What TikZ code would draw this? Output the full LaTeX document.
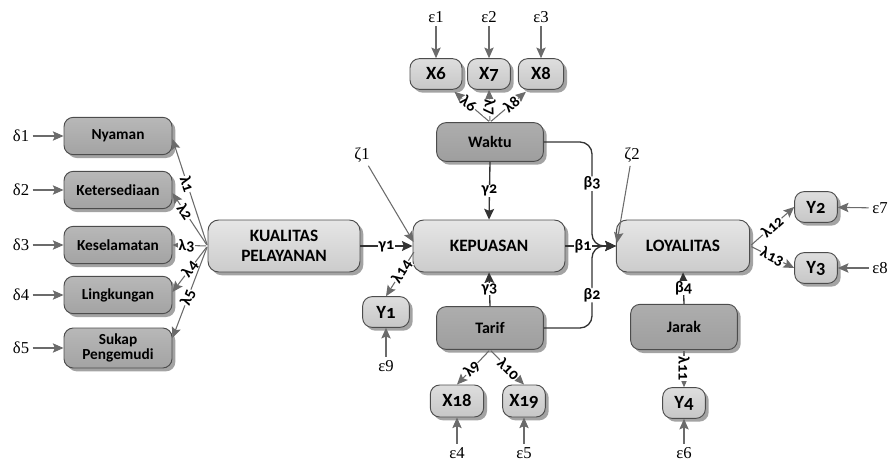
\documentclass[tikz,border=0pt]{standalone}
\usepackage{fontspec}
\setmainfont{Carlito}
\newfontfamily\grk{Liberation Serif}
\newfontfamily\obsf[Numbers=OldStyle]{Carlito}
\usetikzlibrary{arrows.meta,shadows,calc}
\begin{document}
\begin{tikzpicture}[x=0.75pt,y=-0.75pt,
  shad/.style={drop shadow={shadow xshift=2.5pt,shadow yshift=-2.5pt,fill=black!45,opacity=0.8}},
  boxbase/.style={draw=black!70,line width=0.7pt,shad,align=center,inner sep=2pt},
  indbox/.style={boxbase,rounded corners=7pt,top color=black!28,bottom color=black!36,
     minimum width=81pt,minimum height=28pt,font=\bfseries\fontsize{11.5}{12.5}\selectfont},
  latbox/.style={boxbase,rounded corners=8pt,top color=black!10,bottom color=black!20,
     minimum width=114pt,minimum height=39pt,font=\bfseries\fontsize{13}{15}\selectfont},
  midbox/.style={boxbase,rounded corners=7pt,top color=black!32,bottom color=black!38,
     minimum width=80pt,minimum height=30pt,font=\bfseries\fontsize{12}{13}\selectfont},
  obsbox/.style={boxbase,rounded corners=7pt,top color=black!13,bottom color=black!22,
     minimum height=23pt,inner sep=1pt,font=\obsf\bfseries\fontsize{14}{14}\selectfont},
  errl/.style={font=\grk\fontsize{12.5}{12.5}\selectfont,inner sep=1.5pt},
  garr/.style={draw=black!58,line width=0.8pt,-{Stealth[length=8pt,width=7pt,inset=1.5pt]},shorten <=1pt},
  darr/.style={draw=black!80,line width=1pt,-{Stealth[length=8pt,width=7.5pt,inset=1.5pt]}},
  lab/.style={fill=white,inner sep=0.3pt,font=\obsf\bfseries\fontsize{12}{12}\selectfont}]
\useasboundingbox (0,0) rectangle (893,464);

% indicators of KUALITAS PELAYANAN
\node[indbox] (i1) at (118,136) {Nyaman};
\node[indbox] (i2) at (118,190) {Ketersediaan};
\node[indbox] (i3) at (118,245) {Keselamatan};
\node[indbox] (i4) at (118,295) {Lingkungan};
\node[indbox,minimum height=30pt] (i5) at (118,348) {Sukap\\[-1pt]Pengemudi};

\node[errl] (d1) at (21,136) {δ1};
\node[errl] (d2) at (21,190) {δ2};
\node[errl] (d3) at (21,245) {δ3};
\node[errl] (d4) at (21,295) {δ4};
\node[errl] (d5) at (21,348) {δ5};
\foreach \k in {1,...,5} {\draw[garr] (d\k) -- (i\k);}

% latent variables
\node[latbox] (kp) at (284,246) {KUALITAS\\PELAYANAN};
\node[latbox] (kep) at (489,246) {KEPUASAN};
\node[latbox,minimum width=100pt] (loy) at (683,246) {LOYALITAS};

\node[midbox,minimum height=29pt] (wak) at (490,142) {Waktu};
\node[midbox,minimum height=32pt] (tar) at (490,328) {Tarif};
\node[midbox,minimum height=34pt] (jar) at (684,327) {Jarak};

% observed small nodes
\node[obsbox,minimum width=39pt] (x6) at (436,74) {X6};
\node[obsbox,minimum width=32pt] (x7) at (489,74) {X7};
\node[obsbox,minimum width=34pt] (x8) at (541,74) {X8};
\node[obsbox,minimum width=35pt] (y1) at (386,312) {Y1};
\node[obsbox,minimum width=40pt,minimum height=24pt] (x18) at (457,401) {X18};
\node[obsbox,minimum width=32pt,minimum height=24pt] (x19) at (524,401) {X19};
\node[obsbox,minimum width=32pt] (y2) at (816,207) {Y2};
\node[obsbox,minimum width=32pt] (y3) at (816,268) {Y3};
\node[obsbox,minimum width=32pt] (y4) at (684,403) {Y4};

% error terms
\node[errl] (e1) at (436,17) {ε1};
\node[errl] (e2) at (489,17) {ε2};
\node[errl] (e3) at (541,17) {ε3};
\node[errl] (e4) at (457,453) {ε4};
\node[errl] (e5) at (524,453) {ε5};
\node[errl] (e6) at (684,453) {ε6};
\node[errl] (e7) at (880,208) {ε7};
\node[errl] (e8) at (880,268) {ε8};
\node[errl] (e9) at (386,366) {ε9};
\node[errl] (z1) at (362,155) {ζ1};
\node[errl] (z2) at (632,155) {ζ2};

\draw[garr] (e1) -- (x6);
\draw[garr] (e2) -- (x7);
\draw[garr] (e3) -- (x8);
\draw[garr] (e4) -- (x18);
\draw[garr] (e5) -- (x19);
\draw[garr] (e6) -- (y4);
\draw[garr] (e7) -- (y2);
\draw[garr] (e8) -- (y3);
\draw[garr] (e9) -- (y1);
\draw[garr] (z1) -- ($(kep.west)+(1,-4)$);
\draw[garr] (z2) -- ($(loy.west)+(1,-3)$);

% loadings of KUALITAS PELAYANAN
\draw[garr] (kp.west) -- node[lab,sloped,pos=0.58]{λ1} ($(i1.east)+(0,3)$);
\draw[garr] (kp.west) -- node[lab,sloped,pos=0.64]{λ2} ($(i2.east)+(0,3)$);
\draw[garr] (kp.west) -- node[lab,pos=0.6]{λ3} (i3.east);
\draw[garr] (kp.west) -- node[lab,sloped,pos=0.5]{λ4} ($(i4.east)+(0,-3)$);
\draw[garr] (kp.west) -- node[lab,sloped,pos=0.56]{λ5} ($(i5.east)+(0,-10)$);

% loadings of Waktu
\draw[garr] (wak.north) -- node[lab,sloped,pos=0.6]{λ6} ($(x6.south east)+(-8,2)$);
\draw[garr] (wak.north) -- node[lab,sloped,pos=0.45]{λ7} (x7.south);
\draw[garr] (wak.north) -- node[lab,sloped,pos=0.6]{λ8} ($(x8.south west)+(8,2)$);

% loadings of Tarif
\draw[garr] (tar.south) -- node[lab,sloped,pos=0.55]{λ9} (x18.north);
\draw[garr] (tar.south) -- node[lab,sloped,pos=0.55]{λ10} (x19.north);

% loading of Jarak
\draw[garr] (jar.south) -- node[lab,sloped,pos=0.5]{λ11} (y4.north);

% loadings of LOYALITAS
\draw[garr] (loy.east) -- node[lab,sloped,pos=0.5]{λ12} (y2.west);
\draw[garr] (loy.east) -- node[lab,sloped,pos=0.5]{λ13} (y3.west);

% loading of KEPUASAN
\draw[garr] ($(kep.west)+(2,5)$) -- node[lab,sloped,pos=0.45]{λ14} (y1.north);

% structural paths
\coordinate (jx) at (592,246);
\draw[darr] (kp.east) -- node[lab]{γ1} (kep.west);
\draw[darr] (wak.south) -- node[lab]{γ2} (kep.north);
\draw[darr] (tar.north) -- node[lab]{γ3} (kep.south);
\draw[darr] (jar.north) -- node[lab]{β4} (loy.south);
\draw[darr] (kep.east) -- node[lab,pos=0.35]{β1} (loy.west);
\draw[darr,rounded corners=9pt] (wak.east) -| node[lab,pos=0.7]{β3} (jx) -- (loy.west);
\draw[darr,rounded corners=9pt] (tar.east) -| node[lab,pos=0.7]{β2} (jx) -- (loy.west);
\end{tikzpicture}
\end{document}
